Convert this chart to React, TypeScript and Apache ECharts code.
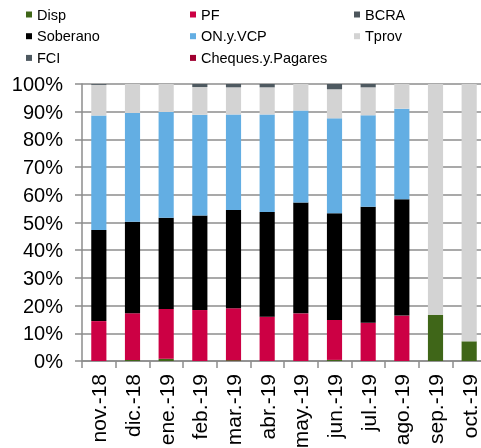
import React, { useEffect, useRef } from "react";
import * as echarts from "echarts";

const categories = ["nov.-18", "dic.-18", "ene.-19", "feb.-19", "mar.-19", "abr.-19", "may.-19", "jun.-19", "jul.-19", "ago.-19", "sep.-19", "oct.-19"];
const disp = [0, 0.4, 0.8, 0, 0.3, 0, 0, 0.4, 0, 0, 16.7, 7.1];
const pf = [14.4, 16.8, 18.0, 18.4, 18.7, 16.0, 17.2, 14.4, 13.8, 16.4, 0, 0];
const bcra = [0, 0, 0, 0, 0, 0, 0, 0, 0, 0, 0, 0];
const soberano = [32.9, 33.1, 32.9, 34.1, 35.5, 37.8, 40.0, 38.5, 41.9, 42.0, 0, 0];
const onVcp = [41.3, 39.2, 38.2, 36.4, 34.5, 35.2, 33.2, 34.3, 33.0, 32.7, 0, 0];
const tprov = [11.1, 10.5, 10.1, 10.0, 9.8, 9.8, 9.6, 10.5, 10.1, 8.9, 83.3, 92.9];
const fci = [0.3, 0, 0, 1.1, 1.2, 1.2, 0, 1.9, 1.2, 0, 0, 0];
const cheques = [0, 0, 0, 0, 0, 0, 0, 0, 0, 0, 0, 0];
const yTicks = [0, 10, 20, 30, 40, 50, 60, 70, 80, 90, 100];

const seriesDefs = [
  { name: "Disp", data: disp, color: "#3F6618" },
  { name: "PF", data: pf, color: "#CC0044" },
  { name: "BCRA", data: bcra, color: "#4D565C" },
  { name: "Soberano", data: soberano, color: "#000000" },
  { name: "ON.y.VCP", data: onVcp, color: "#63AEE3" },
  { name: "Tprov", data: tprov, color: "#D3D3D3" },
  { name: "FCI", data: fci, color: "#4E5960" },
  { name: "Cheques.y.Pagares", data: cheques, color: "#A00030" },
];

const FONT = "'Liberation Sans', Arial, sans-serif";

export default function App() {
  const ref = useRef<HTMLDivElement>(null);
  useEffect(() => {
    if (!ref.current) return;
    const chart = echarts.init(ref.current, null, { renderer: "svg" });
    const legendBase = {
      orient: "vertical" as const,
      top: 2,
      itemWidth: 6,
      itemHeight: 6,
      itemGap: 6.7,
      icon: "rect",
      textStyle: { fontSize: 14.5, color: "#000", fontFamily: FONT, lineHeight: 14 },
      selectedMode: false,
    };
    chart.setOption({
      animation: false,
      textStyle: { fontFamily: FONT },
      legend: [
        { ...legendBase, left: 21, data: ["Disp", "Soberano", "FCI"] },
        { ...legendBase, left: 185, data: ["PF", "ON.y.VCP", "Cheques.y.Pagares"] },
        { ...legendBase, left: 349, data: ["BCRA", "Tprov"] },
      ],
      grid: { left: 82, top: 84, bottom: 87, right: -5, containLabel: false, outerBoundsMode: "none" },
      xAxis: {
        type: "category",
        data: categories,
        axisLine: { show: true, lineStyle: { color: "#8c8c8c", width: 1.5 } },
        axisTick: { show: true, length: 7, alignWithLabel: false, lineStyle: { color: "#8c8c8c", width: 1.5 } },
        axisLabel: { rotate: 90, fontSize: 21, color: "#000", margin: 13, fontFamily: FONT, interval: 0 },
        splitLine: { show: false },
      },
      yAxis: {
        type: "value",
        min: yTicks[0],
        max: yTicks[yTicks.length - 1],
        interval: 10,
        axisLine: { show: true, lineStyle: { color: "#8c8c8c", width: 1.5 } },
        axisTick: { show: true, length: 7, lineStyle: { color: "#8c8c8c", width: 1.5 } },
        axisLabel: { formatter: "{value}%", fontSize: 20, color: "#000", margin: 19, fontFamily: FONT },
        splitLine: { show: true, lineStyle: { color: "#8c8c8c", width: 1.5 } },
      },
      series: seriesDefs.map((s) => ({
        name: s.name,
        type: "bar",
        stack: "total",
        data: s.data,
        barWidth: "45%",
        itemStyle: { color: s.color },
        emphasis: { disabled: true },
      })),
    });
    return () => chart.dispose();
  }, []);
  return <div ref={ref} style={{ position: "fixed", left: 0, top: 0, width: 481, height: 448 }} />;
}
